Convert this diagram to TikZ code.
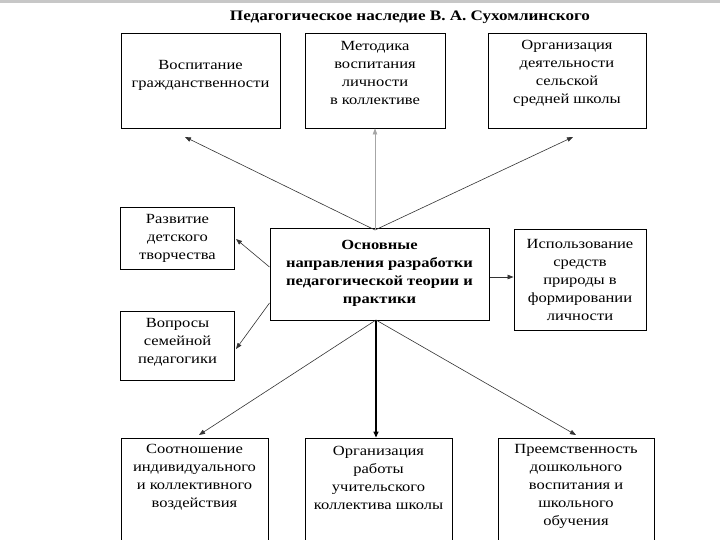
\documentclass[tikz,border=0pt]{standalone}
\usepackage{fontspec}
\setmainfont{Liberation Serif}[FakeStretch=1.18]
\usetikzlibrary{arrows.meta,calc}
\tikzset{
  box/.style={draw=black, line width=0.9pt, rectangle, inner sep=0pt},
  txt/.style={align=center, inner sep=0pt, font=\fontsize{14}{18}\selectfont},
  btxt/.style={align=center, inner sep=0pt, font=\fontsize{14}{18}\selectfont\bfseries},
  arr/.style={draw=black!80, line width=0.6pt, -{Triangle[length=6pt,width=4.5pt]}},
  garr/.style={draw=black!35, line width=0.6pt, -{Triangle[length=6pt,width=4.5pt]}},
  karr/.style={draw=black, line width=1.4pt, -{Triangle[length=6pt,width=5pt]}}
}
\begin{document}
\begin{tikzpicture}[x=1pt,y=-1pt]
\path[use as bounding box] (0,0) rectangle (720,540);
\fill[black!22] (0,0) rectangle (720,3);

\node[btxt, font=\fontsize{14.5}{18}\selectfont\bfseries] (title) at (410,17) {Педагогическое наследие В. А. Сухомлинского};

% top boxes
\node[box, minimum width=159pt, minimum height=95pt] (t1) at (200.5,80.5) {};
\node[box, minimum width=140pt, minimum height=95pt] (t2) at (375,80.5) {};
\node[box, minimum width=158pt, minimum height=95pt] (t3) at (567,80.5) {};
\node[txt] (t1t) at (200.5,75) {Воспитание\\гражданственности};
\node[txt] (t2t) at (375,73) {Методика\\воспитания\\личности\\в коллективе};
\node[txt] (t3t) at (567,73) {Организация\\деятельности\\сельской\\средней школы};

% left boxes
\node[box, minimum width=114pt, minimum height=62pt] (l1) at (177.5,238) {};
\node[box, minimum width=114pt, minimum height=69pt] (l2) at (177.5,345.5) {};
\node[txt] (l1t) at (177.5,238) {Развитие\\детского\\творчества};
\node[txt] (l2t) at (177.5,342) {Вопросы\\семейной\\педагогики};

% center box
\node[box, line width=1pt, minimum width=219pt, minimum height=91pt] (c) at (379.5,274.5) {};
\node[btxt] (ct) at (379.5,273) {Основные\\направления разработки\\педагогической теории и\\практики};

% right box
\node[box, minimum width=132pt, minimum height=101pt] (r) at (580,279.5) {};
\node[txt] (rt) at (580,280) {Использование\\средств\\природы в\\формировании\\личности};

% bottom boxes
\node[box, minimum width=147pt, minimum height=110pt] (b1) at (194.5,493) {};
\node[box, minimum width=147pt, minimum height=110pt] (b2) at (378.5,493) {};
\node[box, minimum width=156pt, minimum height=110pt] (b3) at (576,493) {};
\node[txt] (b1t) at (194.5,477.5) {Соотношение\\индивидуального\\и коллективного\\воздействия};
\node[txt] (b2t) at (378.5,477.5) {Организация\\работы\\учительского\\коллектива школы};
\node[txt] (b3t) at (576,486) {Преемственность\\дошкольного\\воспитания и\\школьного\\обучения};

% connector points
\coordinate (cn) at (375,230);
\coordinate (cs) at (376,320);
\coordinate (e1) at (185,137);
\coordinate (e3) at (573,137);
\coordinate (el1) at (236,239);
\coordinate (el2) at (236,349);
\coordinate (eb1) at (199,435);
\coordinate (eb3) at (576,435);

\draw[arr] (cn) -- (e1);
\draw[arr] (cn) -- (e3);
\draw[garr] (cn) -- (t2.south -| cn);
\draw[arr] (c.west |- 0,267) -- (el1);
\draw[arr] (c.west |- 0,303) -- (el2);
\draw[arr] (c.east |- 0,277) -- (r.west |- 0,277);
\draw[arr] (cs) -- (eb1);
\draw[karr] (cs) -- (b2.north -| cs);
\draw[arr] (cs) -- (eb3);
\end{tikzpicture}
\end{document}
